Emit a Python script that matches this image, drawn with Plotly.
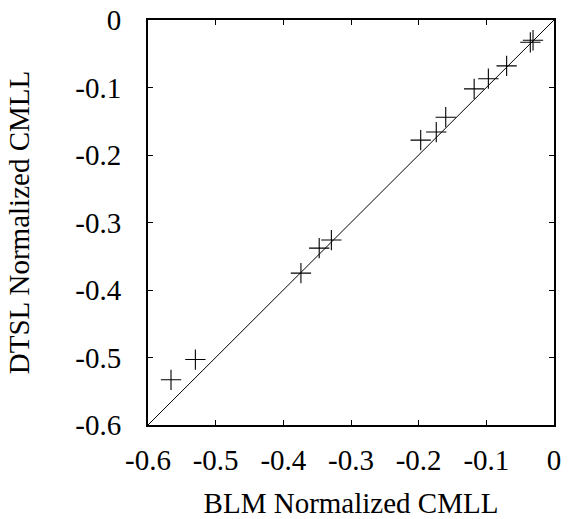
import plotly.graph_objects as go

blm = [-0.035, -0.031, -0.070, -0.097, -0.118, -0.160, -0.174, -0.197,
       -0.329, -0.347, -0.374, -0.530, -0.566]
dtsl = [-0.033, -0.030, -0.068, -0.087, -0.102, -0.144, -0.166, -0.178,
        -0.326, -0.338, -0.375, -0.503, -0.533]
diag = [-0.6, 0]
ticks = [-0.6, -0.5, -0.4, -0.3, -0.2, -0.1, 0]
ticklabels = ["-0.6", "-0.5", "-0.4", "-0.3", "-0.2", "-0.1", "0"]

font = dict(family="Liberation Serif", size=29, color="black")

fig = go.Figure()
fig.add_trace(go.Scatter(x=diag, y=diag, mode="lines",
                         line=dict(color="black", width=1), showlegend=False))
fig.add_trace(go.Scatter(x=blm, y=dtsl, mode="markers",
                         marker=dict(symbol="cross-thin-open", size=14.5, color="black",
                                     line=dict(color="black", width=1.1)),
                         showlegend=False))

axis_common = dict(range=[-0.6, 0], tickvals=ticks, ticktext=ticklabels,
                   ticks="inside", ticklen=5, tickwidth=1, tickcolor="black",
                   showline=True, linecolor="black", linewidth=2, mirror="ticks",
                   showgrid=False, zeroline=False, tickfont=font, automargin=False,
                   ticklabeloverflow="allow")

fig.update_layout(
    width=580, height=519,
    margin=dict(l=148, r=26, t=20, b=94, autoexpand=False),
    plot_bgcolor="white", paper_bgcolor="white",
    font=font,
    xaxis=dict(**axis_common, ticklabelstandoff=8,
               title=dict(text="BLM Normalized CMLL", font=font, standoff=21)),
    yaxis=dict(**axis_common, ticklabelstandoff=19,
               title=dict(text="DTSL Normalized CMLL", font=font, standoff=37)),
)
fig.write_html("out.html", config={"displayModeBar": False},
               post_script="document.body.style.margin='0px';")
